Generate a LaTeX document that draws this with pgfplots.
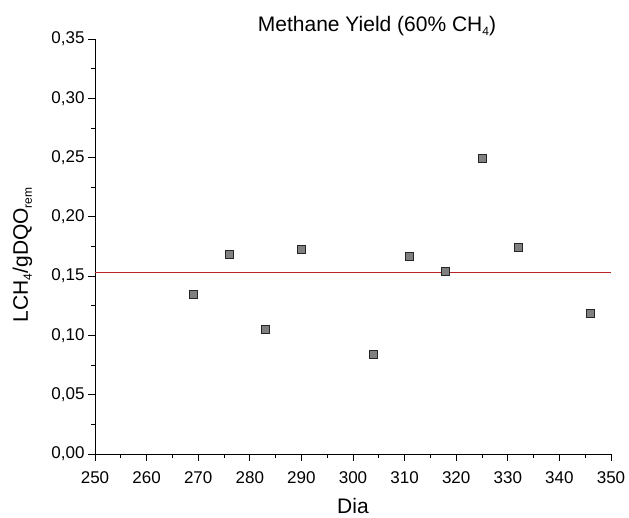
\documentclass[border=0pt]{standalone}
\usepackage{fontspec}
\setmainfont{Liberation Sans}
\usepackage{pgfplots}
\pgfplotsset{compat=1.18}
\usetikzlibrary{calc}
\definecolor{markfill}{RGB}{128,128,128}
\newcommand{\sub}[1]{\raisebox{-0.35ex}{\fontsize{12}{12}\selectfont #1}}
\begin{document}
\begin{tikzpicture}
\begin{axis}[
  width=516pt, height=415pt, scale only axis,
  xmin=250, xmax=350, ymin=0, ymax=0.35,
  axis x line=bottom, axis y line=left,
  axis line style={-, line width=0.8pt, black},
  xtick={250,260,270,280,290,300,310,320,330,340,350},
  ytick={0,0.05,0.10,0.15,0.20,0.25,0.30,0.35},
  minor x tick num=1, minor y tick num=1,
  tick align=outside,
  major tick length=7pt, minor tick length=4pt,
  every tick/.style={black, line width=0.8pt},
  /pgf/number format/assume math mode=true,
  xticklabel style={yshift=-7pt, /pgf/number format/.cd, fixed, 1000 sep={}},
  yticklabel style={/pgf/number format/.cd, fixed, fixed zerofill, precision=2, use comma},
  tick label style={font=\fontsize{17}{17}\selectfont},
  xlabel={Dia},
  ylabel={LCH\sub{4}/gDQO\sub{rem}},
  every axis x label/.style={at={(axis description cs:0.5,0)}, anchor=base, yshift=-60pt, font=\fontsize{21}{21}\selectfont},
  every axis y label/.style={at={(axis description cs:-0.13,0.48)}, rotate=90, anchor=base, font=\fontsize{21}{21}\selectfont},
  title={Methane Yield (60\% CH\sub{4})},
  every axis title/.style={at={(axis description cs:0.5465,1.017)}, anchor=base, font=\fontsize{21}{21}\selectfont},
  clip=false,
]
\addplot[draw={rgb,255:red,185;green,35;blue,35}, line width=0.9pt, no marks] coordinates {(250,0.1527) (350,0.1527)};
\addplot[only marks, mark=square*, mark size=4pt,
  mark options={fill=markfill, draw=black!85, line width=0.8pt}]
  coordinates {
  (269,0.1350) (276,0.1687) (283,0.1050) (290,0.1723) (304,0.0843)
  (311,0.1664) (318,0.1538) (325,0.2494) (332,0.1740) (346,0.1183)
  };
\end{axis}
\path[use as bounding box] ($(current axis.south west)+(-95pt,-62pt)$) rectangle ($(current axis.north east)+(18pt,39pt)$);
\end{tikzpicture}
\end{document}
